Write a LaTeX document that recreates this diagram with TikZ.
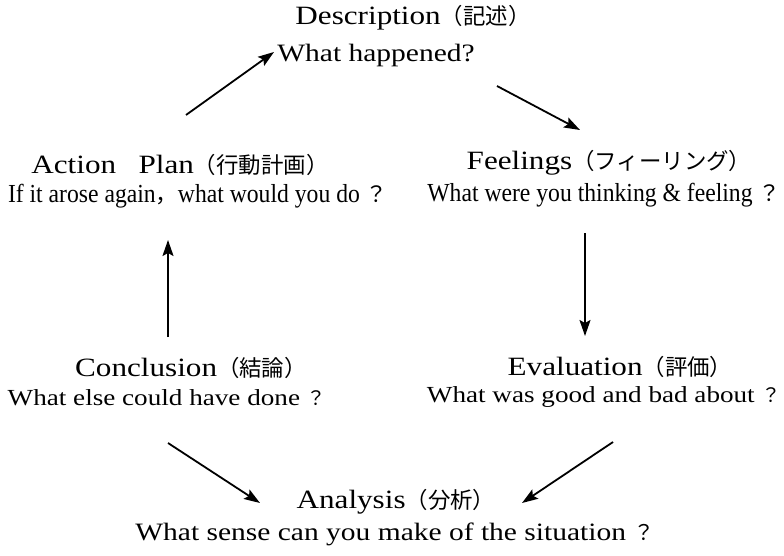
\documentclass[tikz,border=0pt]{standalone}
\usepackage{fontspec}
\setmainfont{Liberation Serif}
\newfontfamily\wide[FakeStretch=1.18]{Liberation Serif}
\newfontfamily\tms[FakeStretch=0.91]{Liberation Serif}
\newfontfamily\jp[Scale=0.85]{Noto Sans CJK JP}
\usepackage{tikz}
\usetikzlibrary{calc}
\usetikzlibrary{arrows.meta}

\begin{document}
\begin{tikzpicture}[x=1pt,y=-1pt,
    stage/.style={inner sep=0pt,font=\wide\fontsize{26.4}{32}\selectfont},
    ask/.style={inner sep=0pt,font=\wide\fontsize{25}{30}\selectfont},
    asktight/.style={inner sep=0pt,font=\wide\fontsize{23}{28}\selectfont},
    asknarrow/.style={inner sep=0pt,font=\tms\fontsize{26}{30}\selectfont},
    flow/.style={line width=1.8pt,-{Stealth[length=16pt,width=11pt,inset=3pt]}}]
  \useasboundingbox (0,0) rectangle (784,556);

  \node [stage] (descT) at (413,18) {Description{\jp （記述）}};
  \node [ask] (descQ) at (376,55) {What happened?};
  \node [stage] (feelT) at (609,163) {Feelings{\jp （フィーリング）}};
  \node [asknarrow] (feelQ) at (604,195) {What were you thinking \& feeling {\jp ？}};
  \node [stage] (evalT) at (620,367) {Evaluation{\jp （評価）}};
  \node [asktight] (evalQ) at (604,397) {What was good and bad about {\jp ？}};
  \node [stage] (analT) at (396,502) {Analysis{\jp （分析）}};
  \node [ask] (analQ) at (395,534) {What sense can you make of the situation {\jp ？}};
  \node [stage] (conclT) at (191,368) {Conclusion{\jp （結論）}};
  \node [asktight] (conclQ) at (167,398) {What else could have done {\jp ？}};
  \node [stage] (planT) at (180,165) {Action{\jp 　}Plan{\jp （行動計画）}};
  \node [asknarrow] (planQ) at (198,196) {If it arose again{\jp ，}what would you do {\jp ？}};

  \coordinate (a1) at ($ (planT)+(6,-50) $);
  \coordinate (b1) at ($ (descQ)+(-102,-3) $);
  \coordinate (a2) at ($ (descQ)+(121,31) $);
  \coordinate (b2) at ($ (feelT)+(-29,-33) $);
  \coordinate (a3) at ($ (feelQ)+(-19,38) $);
  \coordinate (b3) at ($ (evalT)+(-35,-31) $);
  \coordinate (a4) at ($ (evalQ)+(9,45) $);
  \coordinate (b4) at ($ (analT)+(126,1) $);
  \coordinate (a5) at ($ (conclQ)+(1,45) $);
  \coordinate (b5) at ($ (analT)+(-136,1) $);
  \coordinate (a6) at ($ (conclT)+(-23,-31) $);
  \coordinate (b6) at ($ (planQ)+(-30,44) $);

  \draw [flow] (a1) -- (b1);
  \draw [flow] (a2) -- (b2);
  \draw [flow] (a3) -- (b3);
  \draw [flow] (a4) -- (b4);
  \draw [flow] (a5) -- (b5);
  \draw [flow] (a6) -- (b6);
\end{tikzpicture}
\end{document}
